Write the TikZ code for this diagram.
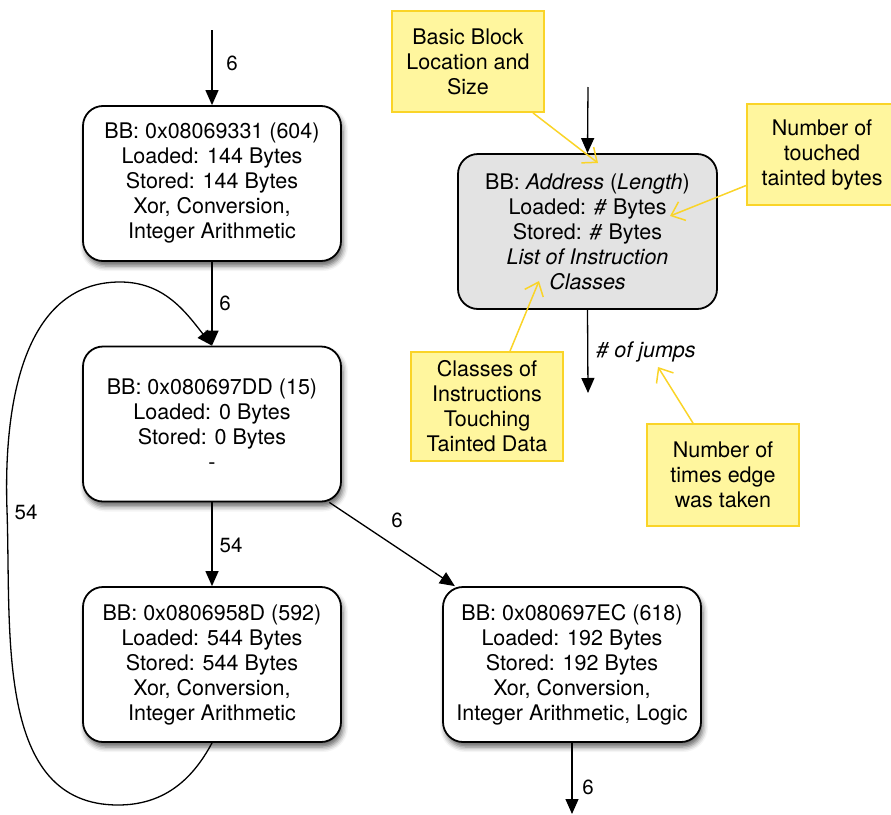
\documentclass[tikz,border=0pt]{standalone}
\usepackage{fontspec}
\setmainfont{TeX Gyre Heros}
\usetikzlibrary{arrows.meta,calc,shadows.blur}

\definecolor{noteFill}{RGB}{255,246,158}
\definecolor{noteEdge}{RGB}{250,212,40}
\definecolor{legendFill}{RGB}{227,227,227}

\newcommand{\bbfont}{\fontsize{21.5}{25}\selectfont}
\newcommand{\lblfont}{\fontsize{20.5}{24}\selectfont}

\tikzset{
  bblock/.style={draw=black, line width=1.8pt, rounded corners=20pt, fill=white,
    minimum width=258pt, minimum height=155pt, align=center, inner sep=0pt,
    font=\bbfont,
    blur shadow={shadow xshift=2pt, shadow yshift=-5pt, shadow blur radius=5pt, shadow opacity=60}},
  legendblock/.style={bblock, fill=legendFill, blur shadow={shadow opacity=0}},
  note/.style={draw=noteEdge, fill=noteFill, line width=1.8pt, align=center,
    inner sep=0pt, font=\bbfont},
  flow/.style={draw=black, line width=1.3pt, -{Triangle[length=15pt,width=13pt]}},
  pointer/.style={draw=noteEdge, line width=1.5pt, -{Straight Barb[length=12pt,width=20pt,line width=1.5pt]}},
  elabel/.style={font=\lblfont, inner sep=0pt}
}

\begin{document}
\begin{tikzpicture}[x=1pt, y=-1pt]
  \useasboundingbox (0,0) rectangle (891,814);

  % basic blocks of the flow graph
  \node[bblock] (b1) at (212,183.5) {BB: 0x08069331 (604)\\Loaded: 144 Bytes\\Stored: 144 Bytes\\Xor, Conversion,\\Integer Arithmetic};
  \node[bblock] (b2) at (212,424) {BB: 0x080697DD (15)\\Loaded: 0 Bytes\\Stored: 0 Bytes\\-};
  \node[bblock] (b3) at (212,664.5) {BB: 0x0806958D (592)\\Loaded: 544 Bytes\\Stored: 544 Bytes\\Xor, Conversion,\\Integer Arithmetic};
  \node[bblock] (b4) at (572,664.5) {BB: 0x080697EC (618)\\Loaded: 192 Bytes\\Stored: 192 Bytes\\Xor, Conversion,\\Integer Arithmetic, Logic};

  % dangling edge ends
  \coordinate (in1) at (212,30);
  \coordinate (out4) at (572,814);

  % edges with execution counts
  \draw[flow] (in1) -- (b1.north);
  \node[elabel] (l0) at (232,63) {6};
  \draw[flow] (b1.south) -- (b2.north);
  \node[elabel] (l1) at (225,303) {6};
  \draw[flow] (b2.south) -- (b3.north);
  \node[elabel] (l2) at (231,545) {54};
  \draw[flow] (b2) -- (b4);
  \node[elabel] (l3) at (397,520) {6};
  \draw[flow] (b4.south) -- (out4);
  \node[elabel] (l4) at (588,787) {6};

  % back edge of the loop
  \draw[flow] (b3.south) to[out=-118, in=0] (118,805)
    to[out=180, in=-88] (7,510)
    to[out=92, in=180] (120,282)
    to[out=0, in=128] (b2.north);
  \node[elabel] (l5) at (26,512) {54};

  % legend block
  \node[legendblock, minimum width=259pt] (leg) at (587.5,231.5)
    {BB: \textit{Address} (\textit{Length})\\Loaded: \textit{\#} Bytes\\Stored: \textit{\#} Bytes\\\textit{List of Instruction}\\\textit{Classes}};
  \coordinate (legin) at (588,87);
  \coordinate (legout) at (588,393);
  \draw[flow] (legin) -- (leg.north);
  \draw[flow] (leg.south) -- (legout);
  \node[elabel, font=\bbfont\itshape] (jumps) at (646,352) {\# of jumps};

  % explanatory notes
  \node[note, minimum width=152pt, minimum height=101pt] (n1) at (468,61.5) {Basic Block\\Location and\\Size};
  \node[note, minimum width=150pt, minimum height=101pt] (n2) at (822,154.5) {Number of\\touched\\tainted bytes};
  \node[note, minimum width=152pt, minimum height=109pt] (n3) at (487,406.5) {Classes of\\Instructions\\Touching\\Tainted Data};
  \node[note, minimum width=152pt, minimum height=102pt] (n4) at (723,475) {Number of\\times edge\\was taken};

  \coordinate (t1) at (598,163);
  \coordinate (t2) at (670,216);
  \coordinate (t3) at (539,281);
  \coordinate (t4) at (658,367);

  \draw[pointer] ($(n1.south)+(65,0)$) -- (t1);
  \draw[pointer] ($(n2.west)+(0,31)$) -- (t2);
  \draw[pointer] ($(n3.north)+(23,0)$) -- (t3);
  \draw[pointer] ($(n4.north)+(-30,0)$) -- (t4);
\end{tikzpicture}
\end{document}
